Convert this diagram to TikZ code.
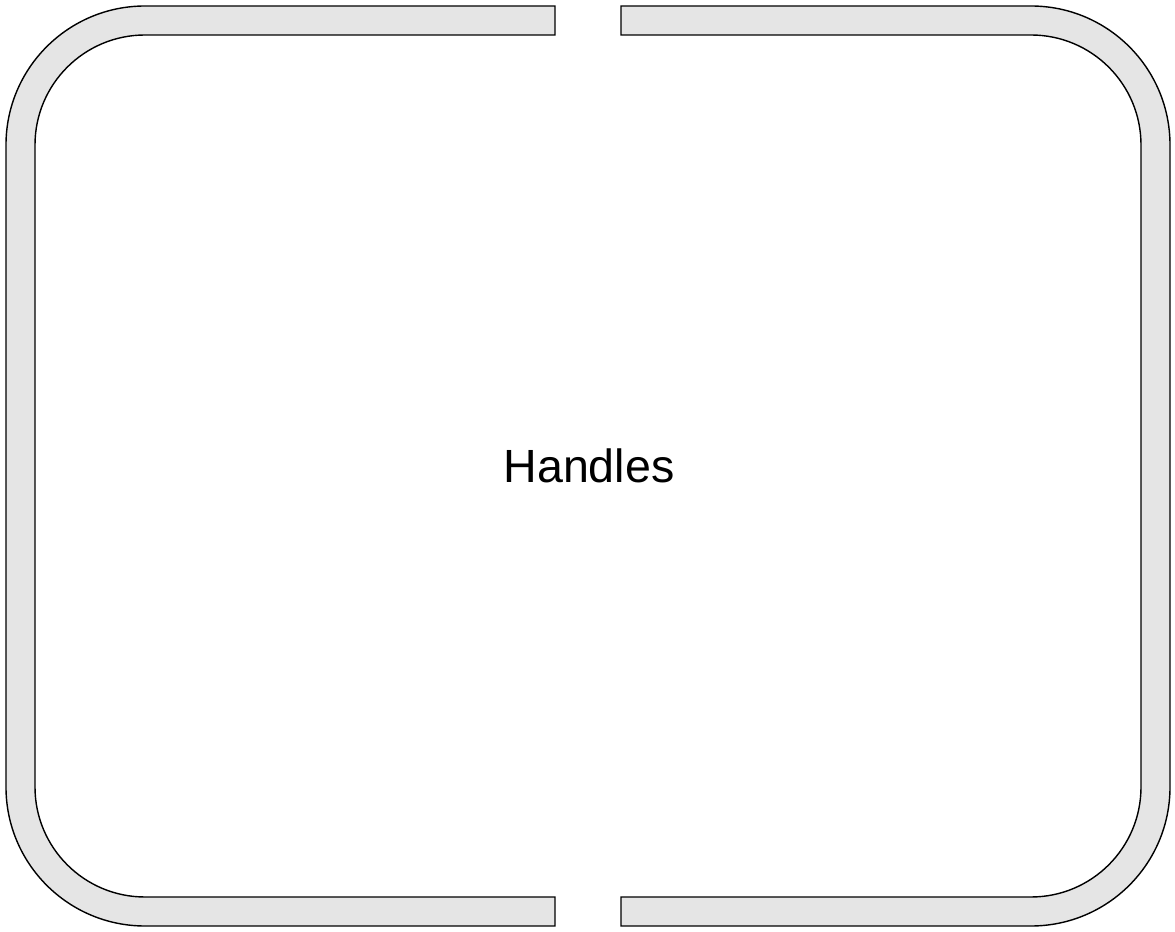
\documentclass[tikz,border=0pt]{standalone}
\usepackage{fontspec}
\setmainfont{Liberation Sans}
\usepackage{tikz}

\begin{document}
\begin{tikzpicture}[
    handle/.style={draw=black,fill=black!10,line width=0.8pt,line join=miter},
    label/.style={font=\fontsize{26.5}{32}\selectfont,inner sep=0pt}
  ]
    \useasboundingbox (0,0) rectangle (23.5,18.62);

    % left handle
    \draw[handle] (11.1,18.5) -- (2.9,18.5)
      arc[start angle=90,end angle=180,radius=2.78] -- (0.12,2.88)
      arc[start angle=180,end angle=270,radius=2.78] -- (11.1,0.1)
      -- (11.1,0.68) -- (2.9,0.68)
      arc[start angle=270,end angle=180,radius=2.2] -- (0.70,15.72)
      arc[start angle=180,end angle=90,radius=2.2] -- (11.1,17.92) -- cycle;

    % right handle
    \draw[handle] (12.42,18.5) -- (20.62,18.5)
      arc[start angle=90,end angle=0,radius=2.78] -- (23.4,2.88)
      arc[start angle=0,end angle=-90,radius=2.78] -- (12.42,0.1)
      -- (12.42,0.68) -- (20.62,0.68)
      arc[start angle=-90,end angle=0,radius=2.2] -- (22.82,15.72)
      arc[start angle=0,end angle=90,radius=2.2] -- (12.42,17.92) -- cycle;

    \node[label] (handles) at (11.78,9.3) {Handles};
  \end{tikzpicture}
\end{document}
